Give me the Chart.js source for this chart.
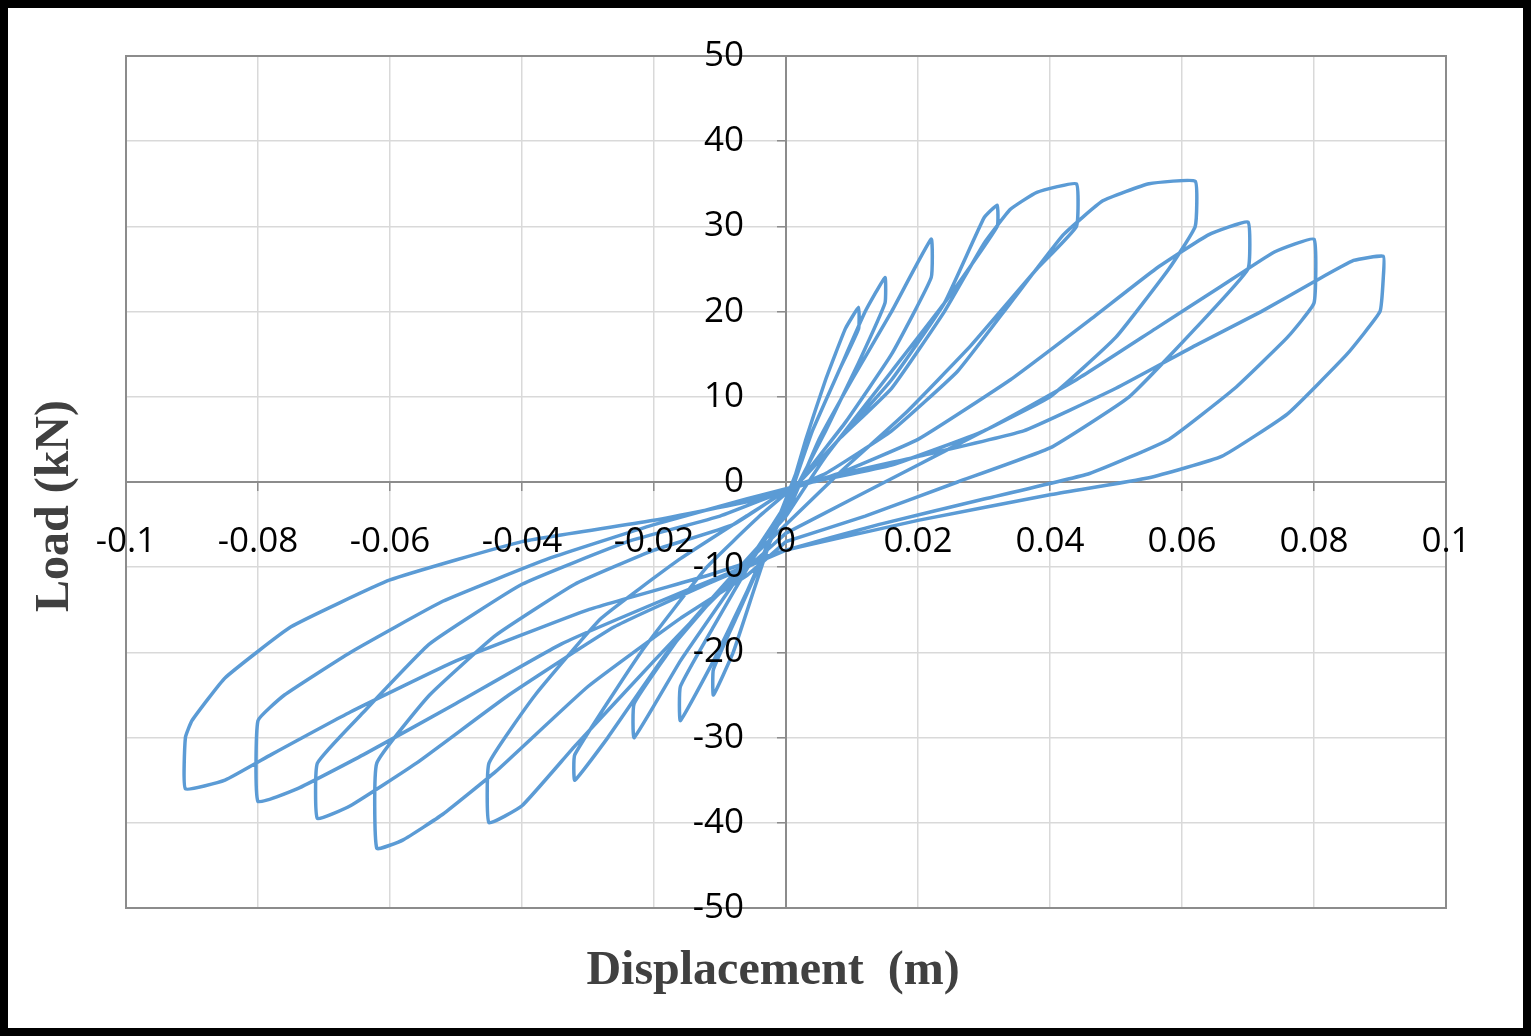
<!DOCTYPE html>
<html>
<head>
<meta charset="utf-8">
<script src="https://cdn.jsdelivr.net/npm/chart.js@4/dist/chart.umd.min.js"></script>
<style>
  body { margin: 0; background: #fff; }
  canvas { display: block; }
</style>
</head>
<body>
<canvas id="loadChart" width="1531" height="1036"></canvas>
<script>
// hysteresis loops, one array per cycle [displacement m, load kN]
const cycle1 = [[0,-3],[0.003,5],[0.006,12],[0.009,18],[0.011,20.5],[0.011,18],[0.008,13],[0.004,6],[0.001,0],[-0.002,-6],[-0.005,-13],[-0.008,-20],[-0.011,-25],[-0.011,-22],[-0.007,-15],[-0.003,-8],[0,-3]];
const cycle2 = [[0,-3],[0.004,6],[0.008,13],[0.012,20],[0.015,24],[0.015,21],[0.011,14],[0.006,6],[0.002,0],[-0.002,-6],[-0.006,-13],[-0.011,-21],[-0.016,-28],[-0.016,-24],[-0.011,-17],[-0.005,-9],[0,-3]];
const cycle3 = [[0,-4],[0.005,5],[0.01,12],[0.016,20],[0.022,28.5],[0.022,24],[0.016,15],[0.009,7],[0.003,1],[-0.002,-5],[-0.008,-12],[-0.016,-21],[-0.023,-30],[-0.023,-26],[-0.015,-17],[-0.007,-10],[0,-4]];
const cycle4 = [[0,-4],[0.006,3],[0.014,11],[0.024,21],[0.032,30],[0.032,32.5],[0.03,31],[0.024,21],[0.016,12],[0.008,5],[0.002,0],[-0.004,-4],[-0.012,-10],[-0.022,-20],[-0.032,-32],[-0.032,-35],[-0.027,-30],[-0.018,-20],[-0.008,-11],[0,-5]];
const cycle5 = [[0,-5],[0.008,1],[0.018,8],[0.028,16],[0.038,25],[0.044,30],[0.044,35],[0.038,34],[0.034,32],[0.03,28],[0.024,20],[0.016,11],[0.008,5],[0.002,0],[-0.006,-4],[-0.016,-9],[-0.028,-16],[-0.038,-25],[-0.045,-33],[-0.045,-40],[-0.04,-38],[-0.032,-31],[-0.02,-21],[-0.01,-13],[0,-6]];
const cycle6 = [[0,-6],[0.01,-2],[0.02,2],[0.03,6],[0.04,10],[0.05,17],[0.058,25],[0.062,30],[0.062,35.3],[0.055,35],[0.048,33],[0.042,29],[0.034,21],[0.026,13],[0.016,6],[0.006,1],[0,-1],[-0.008,-5],[-0.02,-8],[-0.032,-12],[-0.044,-18],[-0.054,-25],[-0.062,-33],[-0.062,-43],[-0.058,-42],[-0.052,-39],[-0.044,-34],[-0.03,-24],[-0.016,-16],[-0.006,-11],[0,-7]];
const cycle7 = [[0,-7],[0.012,-4],[0.026,0],[0.04,4],[0.052,10],[0.062,18],[0.07,25],[0.07,30.5],[0.064,29],[0.056,25],[0.046,19],[0.034,12],[0.02,5],[0.008,1],[0,-1],[-0.01,-4],[-0.024,-7],[-0.04,-12],[-0.054,-19],[-0.064,-27],[-0.071,-33],[-0.071,-39.5],[-0.066,-38],[-0.056,-33],[-0.042,-25],[-0.026,-17],[-0.012,-12],[0,-8]];
const cycle8 = [[0,-8],[0.014,-5],[0.03,-2],[0.046,1],[0.058,5],[0.068,11],[0.076,17],[0.08,21],[0.08,28.5],[0.074,27],[0.066,23],[0.056,18],[0.044,12],[0.03,6],[0.016,2],[0.004,0],[-0.006,-2],[-0.02,-5],[-0.036,-9],[-0.052,-14],[-0.066,-20],[-0.076,-25],[-0.08,-28],[-0.08,-37.5],[-0.074,-36],[-0.064,-32],[-0.05,-26],[-0.034,-19],[-0.016,-13],[0,-8]];
const cycle9 = [[0,-8],[0.02,-4.5],[0.04,-1.5],[0.055,0.5],[0.066,3],[0.076,8],[0.085,15],[0.09,20],[0.0905,24],[0.0905,26.5],[0.086,26],[0.08,23.5],[0.072,20],[0.062,16],[0.05,11],[0.036,6],[0.02,3],[0.006,0.5],[-0.004,-2],[-0.02,-4.5],[-0.04,-7],[-0.06,-11.5],[-0.075,-17],[-0.085,-23],[-0.09,-28],[-0.091,-30],[-0.091,-36],[-0.085,-35],[-0.078,-32],[-0.066,-27],[-0.05,-21],[-0.03,-15],[-0.012,-11],[0,-8]];

const cycles = [cycle1, cycle2, cycle3, cycle4, cycle5, cycle6, cycle7, cycle8, cycle9];
const loadPath = cycles.flat().map(p => ({ x: p[0], y: p[1] }));

const xTicks = [-0.1, -0.08, -0.06, -0.04, -0.02, 0, 0.02, 0.04, 0.06, 0.08, 0.1];
const yTicks = [-50, -40, -30, -20, -10, 0, 10, 20, 30, 40, 50];

// frame, plot box, tick labels and axis titles
const decorations = {
    id: 'decorations',
    beforeDraw(chart) {
        const c = chart.ctx;
        c.save();
        c.fillStyle = '#fff';
        c.fillRect(0, 0, chart.width, chart.height);
        c.restore();
    },
    afterDraw(chart) {
        const c = chart.ctx, a = chart.chartArea;
        const xs = chart.scales.x, ys = chart.scales.y;
        c.save();
        c.strokeStyle = '#8c8c8c';
        c.lineWidth = 2;
        c.strokeRect(a.left, a.top, a.right - a.left, a.bottom - a.top);
        c.strokeStyle = '#000';
        c.lineWidth = 8;
        c.strokeRect(4, 4, chart.width - 8, chart.height - 8);

        c.fillStyle = '#000';
        c.font = '35px "Open Sans"';
        c.textBaseline = 'middle';
        c.textAlign = 'center';
        const y0 = ys.getPixelForValue(0);
        xTicks.forEach(v => c.fillText(String(v), xs.getPixelForValue(v), y0 + 60));
        c.textAlign = 'right';
        const x0 = xs.getPixelForValue(0);
        yTicks.forEach(v => c.fillText(String(v), x0 - 42, ys.getPixelForValue(v)));

        c.fillStyle = '#404040';
        c.font = 'bold 48px "Liberation Serif"';
        c.textAlign = 'center';
        c.fillText('Displacement  (m)', 773, 972);
        c.translate(56, 506);
        c.rotate(-Math.PI / 2);
        c.fillText('Load (kN)', 0, 0);
        c.restore();
    }
};

new Chart(document.getElementById('loadChart'), {
    type: 'scatter',
    data: {
        datasets: [{
            data: loadPath,
            showLine: true,
            borderColor: '#5B9BD5',
            borderWidth: 3.5,
            pointRadius: 0,
            tension: 0.12,
        }],
    },
    options: {
        responsive: false,
        devicePixelRatio: 1,
        animation: false,
        layout: { padding: { left: 126, right: 85, top: 56, bottom: 128 } },
        plugins: { legend: { display: false }, tooltip: { enabled: false } },
        scales: {
            x: {
                type: 'linear',
                position: { y: 0 },
                min: -0.1, max: 0.1,
                ticks: { stepSize: 0.02, display: false },
                grid: { color: '#d9d9d9', lineWidth: 1.5, tickLength: 8, tickColor: '#8c8c8c' },
                border: { color: '#8c8c8c', width: 2 },
            },
            y: {
                type: 'linear',
                position: { x: 0 },
                min: -50, max: 50,
                ticks: { stepSize: 10, display: false },
                grid: { color: '#d9d9d9', lineWidth: 1.5, tickLength: 8, tickColor: '#8c8c8c' },
                border: { color: '#8c8c8c', width: 2 },
            },
        },
    },
    plugins: [decorations],
});
</script>
</body>
</html>
